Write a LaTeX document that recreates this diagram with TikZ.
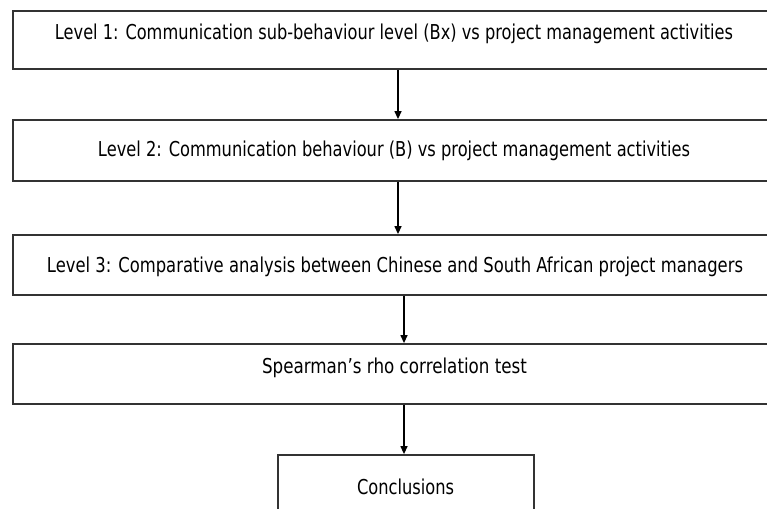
\documentclass[tikz,border=0pt]{standalone}
\usepackage{fontspec}
\usepackage{graphicx}
\setmainfont{DejaVu Sans}
\usetikzlibrary{arrows.meta}
\tikzset{
  box/.style={draw=black!80, line width=1.8pt, rectangle, inner sep=0pt, fill=white},
  lbl/.style={anchor=base, inner sep=0pt, font=\fontsize{20.5}{24}\selectfont, text=black},
  arr/.style={draw=black, line width=1.3pt, -{Triangle[length=8pt,width=7pt]}}
}
\begin{document}
\begin{tikzpicture}[x=1pt,y=-1pt]
\useasboundingbox (0,0) rectangle (767,508);
\clip (0,0) rectangle (767,508);
\fill[white] (0,0) rectangle (767,508);
\node[box, minimum width=762pt, minimum height=58pt] (b1) at (394,40) {};
\node[box, minimum width=762pt, minimum height=61pt] (b2) at (394,150.5) {};
\node[box, minimum width=762pt, minimum height=60pt] (b3) at (394,265) {};
\node[box, minimum width=762pt, minimum height=60pt] (b4) at (394,374) {};
\node[box, minimum width=256pt, minimum height=70pt] (b5) at (406,490) {};
\node[lbl] (t1) at (394,40) {\resizebox{678pt}{\height}{Level 1: Communication sub-behaviour level (Bx) vs project management activities}};
\node[lbl] (t2) at (394,156) {\resizebox{592pt}{\height}{Level 2: Communication behaviour (B) vs project management activities}};
\node[lbl] (t3) at (395,272) {\resizebox{696pt}{\height}{Level 3: Comparative analysis between Chinese and South African project managers}};
\node[lbl] (t4) at (394.5,373) {\resizebox{265pt}{\height}{Spearman’s rho correlation test}};
\node[lbl] (t5) at (405.5,494) {\resizebox{97pt}{\height}{Conclusions}};
\draw[arr] (b1.south -| 398,0) -- (b2.north -| 398,0);
\draw[arr] (b2.south -| 398,0) -- (b3.north -| 398,0);
\draw[arr] (b3.south -| 404,0) -- (b4.north -| 404,0);
\draw[arr] (b4.south -| 404,0) -- (b5.north -| 404,0);
\end{tikzpicture}
\end{document}
